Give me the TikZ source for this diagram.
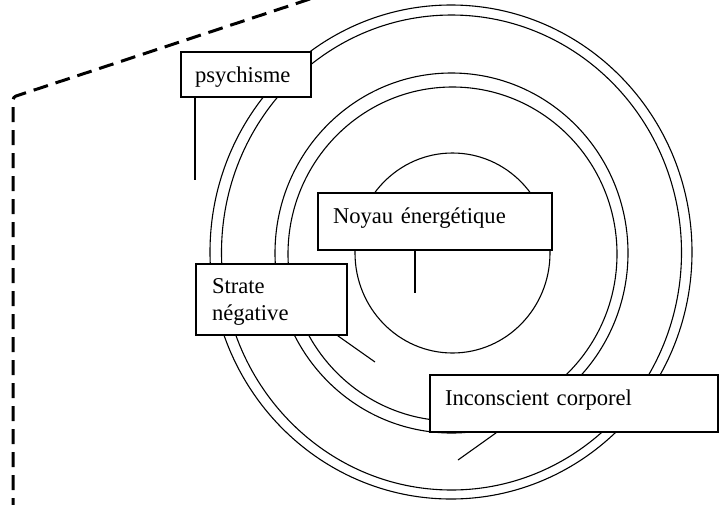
\documentclass[tikz,border=0pt]{standalone}
\usepackage{fontspec}
\setmainfont{Liberation Serif}
\begin{document}
\begin{tikzpicture}[x=1pt,y=-1pt,
  ring/.style={line width=1.1pt},
  labelbox/.style={draw, line width=1.4pt, fill=white, inner ysep=0pt, align=left,
    font=\fontsize{22.6}{27}\selectfont},
  lead/.style={line width=1.1pt},
  border/.style={line width=3pt, dash pattern=on 15pt off 8pt, rounded corners=3pt}]
\useasboundingbox (0,0) rectangle (720,504);
\clip (0,0) rectangle (720,504);
% dashed frame
\coordinate (fTop) at (310,-1);
\coordinate (fCorner) at (13,97);
\coordinate (fBot) at (13,506);
\draw[border] (fTop) -- (fCorner) -- (fBot);
% rings
\draw[ring] (451,252) ellipse [x radius=241, y radius=247];
\draw[ring] (451.5,252.5) ellipse [x radius=230, y radius=237.5];
\draw[ring] (451.5,253) ellipse [x radius=176.5, y radius=180];
\draw[ring] (452.5,254) ellipse [x radius=164.5, y radius=167];
\draw[ring] (452.5,253) ellipse [x radius=97.5, y radius=100];
% label boxes
\node[labelbox, minimum width=130, minimum height=45, inner xsep=14, text width=102,
  text height=16, text depth=1] (psy) at (246,74.5) {psychisme};
\node[labelbox, minimum width=234, minimum height=57, inner xsep=15, text width=204,
  text height=12, text depth=9] (noyau) at (435,221.5) {Noyau énergétique};
\node[labelbox, minimum width=151, minimum height=71, inner xsep=16, text width=119,
  text height=18, text depth=31] (strate) at (271.5,299.5) {Strate\\négative};
\node[labelbox, minimum width=288, minimum height=57, inner xsep=15, text width=258,
  text height=12, text depth=9] (inc) at (574,403.5) {Inconscient corporel};
% leader lines
\coordinate (pEnd) at (195,180);
\coordinate (nEnd) at (415,293);
\coordinate (sEnd) at (375,362);
\coordinate (iEnd) at (458,460);
\draw[lead] (psy.south -| pEnd) -- (pEnd);
\draw[lead] (noyau.south -| nEnd) -- (nEnd);
\draw[lead] ([xshift=-10pt]strate.south east) -- (sEnd);
\draw[lead] ([xshift=67pt]inc.south west) -- (iEnd);
\end{tikzpicture}
\end{document}
